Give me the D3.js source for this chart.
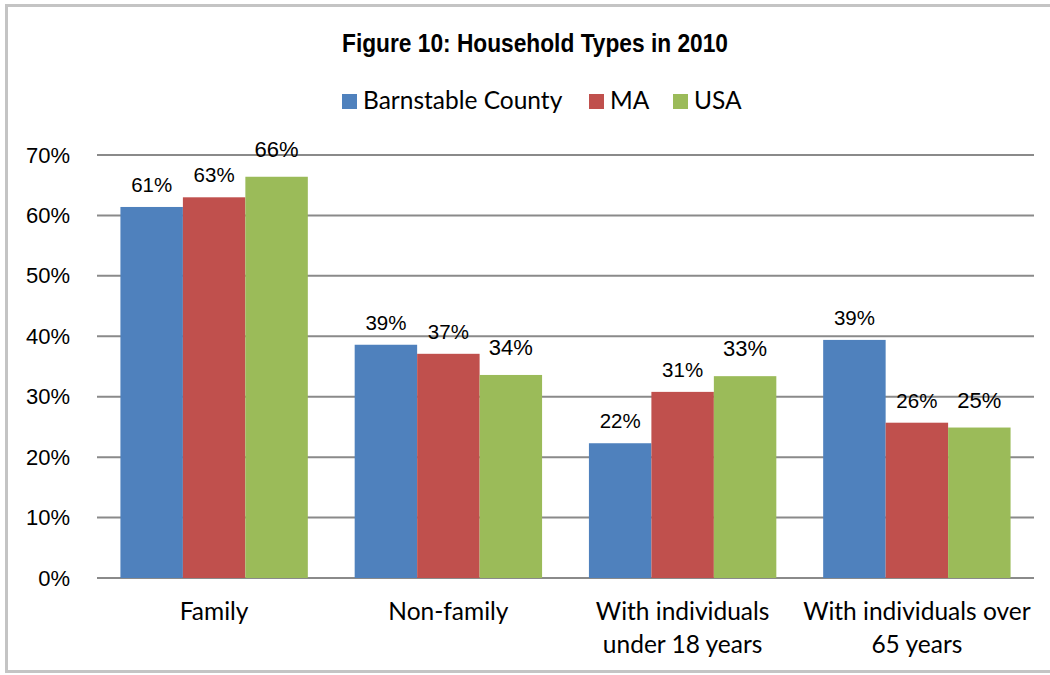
<!DOCTYPE html>
<html>
<head>
<meta charset="utf-8">
<script src="https://cdn.jsdelivr.net/npm/d3@7"></script>
<style>
  html, body { margin: 0; padding: 0; background: #fff; }
  svg { display: block; }
</style>
</head>
<body>
<svg id="chart" width="1050" height="675"></svg>
<script>
// --- Data ---
const categories = ["Family", "Non-family", "With individuals under 18 years", "With individuals over 65 years"];
const categoryLines = [["Family"], ["Non-family"], ["With individuals", "under 18 years"], ["With individuals over", "65 years"]];
const seriesNames = ["Barnstable County", "MA", "USA"];
const barnstable = [61.4, 38.6, 22.3, 39.4];
const ma = [63.0, 37.1, 30.8, 25.7];
const usa = [66.4, 33.6, 33.4, 24.9];
const yTicks = [0, 10, 20, 30, 40, 50, 60, 70];
const colors = ["#4F81BD", "#C0504D", "#9BBB59"];

const seriesValues = [barnstable, ma, usa];
const data = categories.map((c, i) => ({
  category: c,
  values: seriesNames.map((s, j) => ({ series: s, value: seriesValues[j][i] }))
}));

const svg = d3.select("#chart");

// --- Outer frame ---
svg.append("rect")
  .attr("x", 6.5).attr("y", 5.5)
  .attr("width", 1100).attr("height", 666)
  .attr("fill", "none")
  .attr("stroke", "#c4c4c4")
  .attr("stroke-width", 3);

const margin = { top: 155, left: 97, right: 16, bottom: 97 };
const width = 1050 - margin.left - margin.right;
const height = 675 - margin.top - margin.bottom;

const g = svg.append("g").attr("transform", `translate(${margin.left},${margin.top})`);

// --- Scales ---
const x0 = d3.scaleBand()
  .domain(categories)
  .range([0, width])
  .paddingInner(0.2)
  .paddingOuter(0.1);

const x1 = d3.scaleBand()
  .domain(seriesNames)
  .range([0, x0.bandwidth()]);

const y = d3.scaleLinear()
  .domain([0, 70])
  .range([height, 0]);

// --- Gridlines ---
g.append("g")
  .selectAll("line")
  .data(yTicks)
  .join("line")
  .attr("x1", 0).attr("x2", width)
  .attr("y1", d => y(d)).attr("y2", d => y(d))
  .attr("stroke", "#8a8a8a")
  .attr("stroke-width", 2);

// --- Y axis labels ---
const yAxis = g.append("g")
  .call(d3.axisLeft(y).tickValues(yTicks).tickFormat(d => d + "%").tickSize(0).tickPadding(27));
yAxis.select(".domain").remove();
yAxis.selectAll("text")
  .attr("font-family", "'Liberation Sans', Arial, sans-serif")
  .attr("font-size", 22)
  .attr("fill", "#000");

// --- Bars ---
const groups = g.selectAll(".group")
  .data(data)
  .join("g")
  .attr("class", "group")
  .attr("transform", d => `translate(${x0(d.category)},0)`);

groups.selectAll("rect")
  .data(d => d.values)
  .join("rect")
  .attr("x", d => x1(d.series))
  .attr("y", d => y(d.value))
  .attr("width", x1.bandwidth())
  .attr("height", d => height - y(d.value))
  .attr("fill", (d, i) => colors[i]);

// --- Data labels ---
groups.selectAll("text")
  .data(d => d.values)
  .join("text")
  .attr("x", d => x1(d.series) + x1.bandwidth() / 2)
  .attr("y", (d, i) => y(d.value) - (i === 2 ? 20 : 15))
  .attr("text-anchor", "middle")
  .attr("font-family", "'Liberation Sans', Arial, sans-serif")
  .attr("font-size", (d, i) => i === 2 ? 22 : 20.5)
  .attr("fill", "#000")
  .text(d => Math.round(d.value) + "%");

// --- X axis labels ---
const xl = g.append("g").attr("transform", `translate(0,${height})`);
xl.selectAll("text")
  .data(categories)
  .join("text")
  .attr("x", d => x0(d) + x0.bandwidth() / 2)
  .attr("y", 42)
  .attr("text-anchor", "middle")
  .attr("font-family", "Lato, 'Open Sans', sans-serif")
  .attr("font-size", 24.5)
  .attr("fill", "#000")
  .selectAll("tspan")
  .data((d, i) => categoryLines[i].map(t => ({ t, x: x0(d) + x0.bandwidth() / 2 })))
  .join("tspan")
  .attr("x", d => d.x)
  .attr("dy", (d, i) => i === 0 ? 0 : 33)
  .text(d => d.t);

// --- Title (condensed look) ---
svg.append("text")
  .attr("x", 342)
  .attr("y", 52)
  .attr("font-family", "'Liberation Sans Narrow', 'Arial Narrow', 'Liberation Sans', sans-serif")
  .attr("font-weight", "bold")
  .attr("font-size", 26)
  .attr("textLength", 386)
  .attr("lengthAdjust", "spacingAndGlyphs")
  .attr("fill", "#000")
  .text("Figure 10: Household Types in 2010");

// --- Legend ---
const legendX = [342, 589, 673];
const legend = svg.append("g");
seriesNames.forEach((s, i) => {
  legend.append("rect")
    .attr("x", legendX[i]).attr("y", 94)
    .attr("width", 15).attr("height", 15)
    .attr("fill", colors[i]);
  legend.append("text")
    .attr("x", legendX[i] + 21).attr("y", 109)
    .attr("font-family", "Lato, 'Open Sans', sans-serif")
    .attr("font-size", 24.5)
    .attr("fill", "#000")
    .text(s);
});
</script>
</body>
</html>
